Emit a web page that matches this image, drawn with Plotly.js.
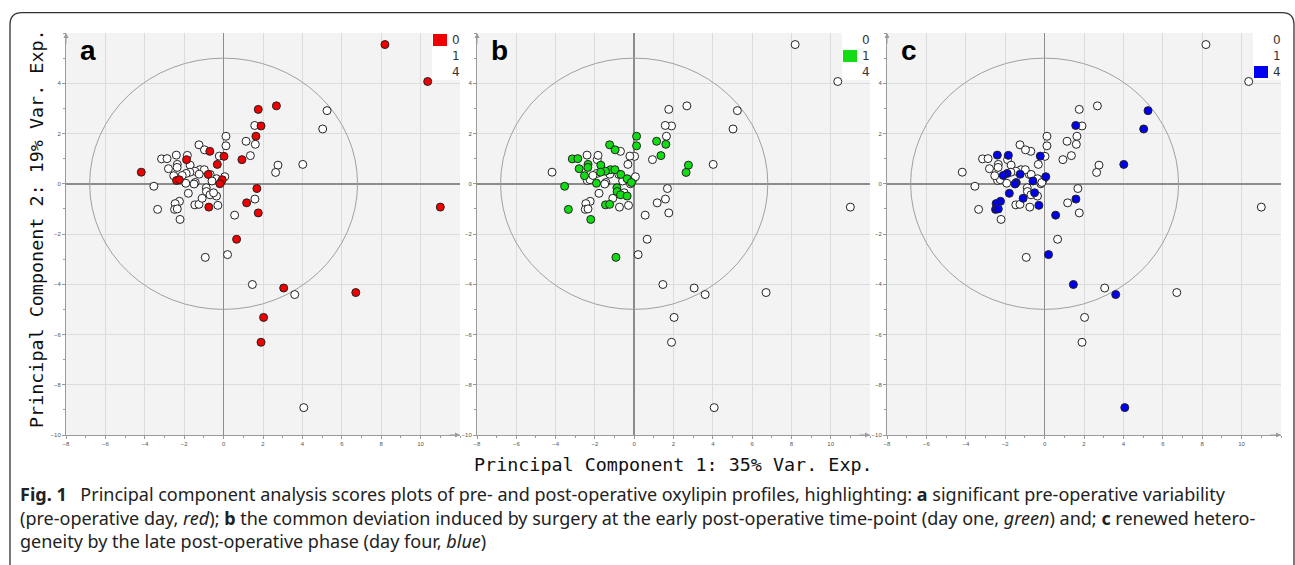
<!DOCTYPE html>
<html><head><meta charset="utf-8">
<script src="https://cdn.plot.ly/plotly-3.0.1.min.js"></script>
<style>html,body{margin:0;padding:0;background:#fff}#chart{width:1295px;height:565px}</style>
</head><body><div id="chart"></div>
<script>
// ---- data ----
const groupLabels = ['0', '1', '4'];
const groupColors = ['#f00000', '#14dc14', '#0000ee'];
const panelLetters = ['a', 'b', 'c'];
const xTickVals = [-8, -6, -4, -2, 0, 2, 4, 6, 8, 10];
const yTickVals = [-10, -8, -6, -4, -2, 0, 2, 4];

// day 0 (pre-operative)
const day0X = [8.19, 10.36, 1.76, 2.68, 1.90, 1.64, -0.70, 0.02, 0.93, -1.88, -0.32, -4.18, -0.78, -2.39, -2.25, -0.07, -0.19, 1.69, 1.17, 1.76, -0.75, 11.00, 0.66, 3.05, 6.71, 2.03, 1.90];
const day0Y = [5.54, 4.07, 2.96, 3.10, 2.30, 1.89, 1.29, 1.09, 0.96, 0.96, 0.77, 0.46, 0.37, 0.13, 0.16, 0.16, 0.00, -0.19, -0.76, -1.16, -0.93, -0.93, -2.21, -4.15, -4.33, -5.32, -6.31];
// day 1 (post-operative)
const day1X = [0.12, 0.12, 1.14, 1.61, -1.25, -0.97, 1.36, -3.15, -2.87, -2.35, -2.36, -2.80, -1.70, 2.76, 2.64, -1.20, -0.98, -1.46, -1.71, -0.68, -2.53, -0.36, -1.92, -3.54, -0.14, -0.88, -0.87, -0.69, -0.36, -1.46, -1.25, -3.35, -2.21, -0.93];
const day1Y = [1.89, 1.51, 1.69, 1.57, 1.55, 1.35, 1.12, 0.99, 1.00, 0.77, 0.65, 0.60, 0.74, 0.74, 0.45, 0.56, 0.56, 0.50, 0.46, 0.37, 0.32, 0.20, 0.02, -0.10, 0.05, -0.16, -0.31, -0.44, -0.49, -0.84, -0.82, -1.02, -1.42, -2.93];
// day 4 (post-operative)
const day4X = [5.25, 5.03, 1.58, 4.02, -2.40, -1.84, -0.22, -1.90, -2.10, -1.24, 0.06, -0.59, -1.44, -1.50, -1.79, -1.09, -0.51, 1.59, -2.24, -2.46, -0.29, -2.49, -2.35, 0.56, 0.20, 1.46, 3.61, 4.07];
const day4Y = [2.91, 2.18, 2.32, 0.77, 1.14, 1.13, 1.10, 0.41, 0.33, 0.38, 0.28, 0.11, 0.05, -0.01, -0.38, -0.58, -0.36, -0.61, -0.70, -0.79, -0.86, -1.02, -1.00, -1.25, -2.82, -4.01, -4.41, -8.91];

const xTitle = 'Principal Component 1: 35% Var. Exp.';
const yTitle = 'Principal Component 2: 19% Var. Exp.';
const captionLines = [
  '<b>Fig. 1</b>\u2002 Principal component analysis scores plots of pre- and post-operative oxylipin profiles, highlighting: <b>a</b> significant pre-operative variability',
  '(pre-operative day, <i>red</i>); <b>b</b> the common deviation induced by surgery at the early post-operative time-point (day one, <i>green</i>) and; <b>c</b> renewed hetero-',
  'geneity by the late post-operative phase (day four, <i>blue</i>)'
];
const ellipseRX = 6.8, ellipseRY = 5.0;
const xRange = [-8, 12], yRange = [-10, 6];

// ---- layout helpers ----
const W = 1295, H = 565;
const px = x => x / W, py = y => 1 - y / H;
const panelsPx = [[66, 460], [477, 870], [887, 1281]];
const plotTop = 33, plotBottom = 435;

const groupX = [day0X, day1X, day4X], groupY = [day0Y, day1Y, day4Y];
const traces = [];
const shapes = [];
const annotations = [];
const layout = {
  width: W, height: H,
  margin: {l: 0, r: 0, t: 0, b: 0},
  paper_bgcolor: '#ffffff', plot_bgcolor: '#f3f3f3',
  showlegend: false,
  font: {family: 'Liberation Sans, Arial, sans-serif', color: '#222'}
};
const axisColor = '#9a9a9a';

panelsPx.forEach(([l, r], i) => {
  const s = i === 0 ? '' : String(i + 1);
  const order = [0, 1, 2].filter(g => g !== i).concat([i]);
  order.forEach(g => traces.push({
    type: 'scatter', mode: 'markers', x: groupX[g], y: groupY[g],
    xaxis: 'x' + s, yaxis: 'y' + s, hoverinfo: 'skip', showlegend: false,
    marker: {size: 8, color: g === i ? groupColors[g] : '#ffffff', line: {color: '#222', width: 1}}
  }));
  const common = {
    showgrid: true, gridcolor: '#dcdcdc', gridwidth: 1,
    zeroline: true, zerolinecolor: '#8c8c8c', zerolinewidth: 1.5,
    showline: true, linecolor: axisColor, linewidth: 1,
    ticks: 'outside', ticklen: 3, tickcolor: axisColor, tickwidth: 1,
    tickfont: {size: 6, color: '#555', family: 'Liberation Sans, Arial, sans-serif'},
    tickmode: 'array',
    minor: {tickmode: 'linear', tick0: 0, dtick: 1, ticks: 'outside', ticklen: 2, tickcolor: axisColor, showgrid: false},
    fixedrange: true
  };
  layout['xaxis' + s] = Object.assign({}, common, {domain: [px(l), px(r)], anchor: 'y' + s, range: xRange, tickvals: xTickVals});
  layout['yaxis' + s] = Object.assign({}, common, {domain: [py(plotBottom), py(plotTop)], anchor: 'x' + s, range: yRange, tickvals: yTickVals});

  // Hotelling ellipse
  shapes.push({type: 'circle', xref: 'x' + s, yref: 'y' + s, x0: -ellipseRX, x1: ellipseRX, y0: -ellipseRY, y1: ellipseRY,
    line: {color: '#a0a0a0', width: 1}, layer: 'between'});

  // axis arrows
  annotations.push({xref: 'x' + s, yref: 'y' + s, x: xRange[0], y: yRange[1], ax: 0, ay: 12, text: '', showarrow: true,
    arrowhead: 2, arrowsize: 1, arrowwidth: 1, arrowcolor: axisColor});
  annotations.push({xref: 'x' + s, yref: 'y' + s, x: xRange[1], y: yRange[0], ax: -12, ay: 0, text: '', showarrow: true,
    arrowhead: 2, arrowsize: 1, arrowwidth: 1, arrowcolor: axisColor});

  // panel letter
  annotations.push({xref: 'paper', yref: 'paper', x: px(l + 12), y: py(51), xanchor: 'left', yanchor: 'middle',
    text: '<b>' + panelLetters[i] + '</b>', showarrow: false, font: {size: 28, color: '#000', family: 'Liberation Sans, Arial, sans-serif'}});

  // legend box
  shapes.push({type: 'rect', xref: 'paper', yref: 'paper', x0: px(r - 28), x1: px(r + 1), y0: py(plotTop + 47), y1: py(plotTop),
    fillcolor: '#ffffff', line: {width: 0}, layer: 'above'});
  groupLabels.forEach((lab, g) => {
    const cy = plotTop + 7 + g * 16;
    shapes.push({type: 'rect', xref: 'paper', yref: 'paper', x0: px(r - 27), x1: px(r - 13), y0: py(cy + 6), y1: py(cy - 6),
      fillcolor: g === i ? groupColors[g] : '#ffffff', line: {width: 0}, layer: 'above'});
    annotations.push({xref: 'paper', yref: 'paper', x: px(r - 4), y: py(cy), xanchor: 'center', yanchor: 'middle',
      text: lab, showarrow: false, font: {size: 12, color: '#333', family: 'DejaVu Sans, sans-serif'}});
  });
});

// axis titles
annotations.push({xref: 'paper', yref: 'paper', x: px(673), y: py(465), xanchor: 'center', yanchor: 'middle',
  text: xTitle, showarrow: false, font: {size: 18.4, color: '#111', family: 'DejaVu Sans Mono, monospace'}});
annotations.push({xref: 'paper', yref: 'paper', x: px(36), y: py(229), xanchor: 'center', yanchor: 'middle', textangle: -90,
  text: yTitle, showarrow: false, font: {size: 18.4, color: '#111', family: 'DejaVu Sans Mono, monospace'}});

// caption
const captionY = [494, 518, 541];
captionLines.forEach((t, k) => annotations.push({xref: 'paper', yref: 'paper', x: px(18), y: py(captionY[k]),
  xanchor: 'left', yanchor: 'middle', align: 'left', text: t, showarrow: false,
  font: {size: 18, color: '#222', family: 'Noto Sans, sans-serif'}}));

// outer figure frame (rounded)
const fx0 = 10, fx1 = 1294, fy0 = 12.7, rad = 12;
shapes.push({type: 'path', xref: 'paper', yref: 'paper', layer: 'above',
  path: `M ${px(fx0)} ${py(H + 20)} L ${px(fx0)} ${py(fy0 + rad)} Q ${px(fx0)} ${py(fy0)} ${px(fx0 + rad)} ${py(fy0)} L ${px(fx1 - rad)} ${py(fy0)} Q ${px(fx1)} ${py(fy0)} ${px(fx1)} ${py(fy0 + rad)} L ${px(fx1)} ${py(H + 20)}`,
  line: {color: '#333', width: 1.3}});

layout.shapes = shapes;
layout.annotations = annotations;
Plotly.newPlot('chart', traces, layout, {displayModeBar: false, staticPlot: true});
</script></body></html>
